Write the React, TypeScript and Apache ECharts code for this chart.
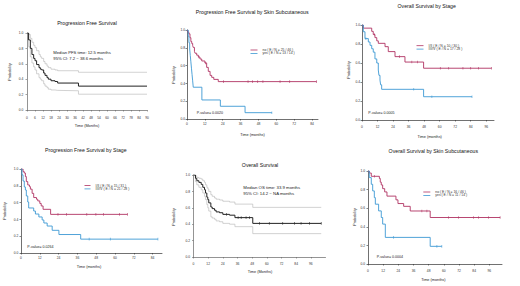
import React, { useEffect, useRef } from 'react';
import * as echarts from 'echarts';

const FONT = '"Liberation Sans", Arial, sans-serif';
const RED = '#B03262';
const BLUE = '#3C98D4';
const DARK = '#222222';
const CI = '#b4b4b4';

// Panel 1: Progression Free Survival (all)
const pfsTime = [0, 1.2, 2.5, 3.7, 5, 6, 7.2, 9, 10, 11, 12.5, 13.5, 15, 16, 18, 21, 23, 38.6];
const pfsSurv = [1, 0.91, 0.8, 0.72, 0.67, 0.64, 0.59, 0.55, 0.53, 0.52, 0.48, 0.45, 0.42, 0.4, 0.38, 0.37, 0.35, 0.31];
const pfsUpper = [1, 0.98, 0.93, 0.88, 0.84, 0.81, 0.77, 0.72, 0.69, 0.67, 0.63, 0.6, 0.57, 0.55, 0.53, 0.52, 0.51, 0.49];
const pfsLower = [1, 0.82, 0.69, 0.61, 0.56, 0.52, 0.47, 0.42, 0.4, 0.38, 0.34, 0.31, 0.29, 0.27, 0.26, 0.255, 0.25, 0.205];
const pfsEnd = 90;

// Panel 2: PFS by skin subcutaneous
const pfsNoTime = [0, 0.5, 1.2, 2, 2.6, 3.2, 3.8, 4.2, 5, 5.4, 6.5, 7.6, 8.7, 9.9, 12, 13.2, 14.3, 15.5, 16.6, 18, 21];
const pfsNoSurv = [1, 0.978, 0.957, 0.913, 0.87, 0.848, 0.826, 0.804, 0.76, 0.739, 0.717, 0.696, 0.674, 0.652, 0.63, 0.58, 0.535, 0.49, 0.468, 0.445, 0.42];
const pfsNoEnd = 87;
const pfsNoCens = [8, 12.5, 24.5, 41, 44, 47.5, 51, 62.5, 69, 87];
const pfsYesTime = [0, 0.8, 1.3, 1.8, 2.2, 2.6, 3.0, 3.4, 3.8, 4.2, 10, 22.4, 39];
const pfsYesSurv = [1, 0.929, 0.857, 0.786, 0.714, 0.643, 0.571, 0.5, 0.429, 0.357, 0.214, 0.143, 0.071];
const pfsYesEnd = 57;
const pfsYesCens = [57];

// Panel 3: OS by stage
const osStage12Time = [0, 1, 7.5, 8.7, 10, 11.4, 12.6, 17.8, 20.3, 25.5, 33.2, 47.6];
const osStage12Surv = [1, 0.967, 0.933, 0.9, 0.867, 0.833, 0.807, 0.772, 0.72, 0.667, 0.61, 0.545];
const osStage12End = 100;
const osStage12Cens = [9.5, 29, 38.5, 43, 60.5, 67, 78, 84, 90, 100];
const osStage34Time = [0, 1, 2.3, 4.9, 6.2, 7.5, 8.7, 10, 11.4, 12.6, 13.1, 13.9, 14.4, 15.2, 47.6];
const osStage34Surv = [1, 0.929, 0.857, 0.821, 0.786, 0.75, 0.714, 0.643, 0.6, 0.526, 0.47, 0.42, 0.37, 0.323, 0.245];
const osStage34End = 85;
const osStage34Cens = [3, 40, 54, 85];

// Panel 4: PFS by stage
const pfsStage12Time = [0, 1.3, 2.1, 2.8, 3.4, 4.3, 5.4, 6, 7.1, 8.1, 9.9, 10.7, 12, 12.9, 14.1, 18.9];
const pfsStage12Surv = [1, 0.968, 0.952, 0.91, 0.85, 0.81, 0.79, 0.76, 0.71, 0.66, 0.64, 0.62, 0.59, 0.56, 0.52, 0.46];
const pfsStage12End = 68;
const pfsStage12Cens = [23.6, 29, 42, 47.8, 52.7, 62.8, 68];
const pfsStage34Time = [0, 0.6, 1.3, 2.1, 2.8, 3.4, 4.3, 4.9, 8.1, 9.2, 11.4, 13.5, 14.6, 16.7, 19.9, 24.2, 38.1];
const pfsStage34Surv = [1, 0.93, 0.857, 0.786, 0.75, 0.679, 0.607, 0.536, 0.5, 0.464, 0.429, 0.393, 0.357, 0.321, 0.27, 0.22, 0.165];
const pfsStage34End = 87.4;
const pfsStage34Cens = [43.5, 57, 87.4];

// Panel 5: Overall Survival (all)
const osTime = [0, 1.6, 2.7, 4.4, 6.3, 7.6, 9, 9.8, 10.9, 11.7, 12.5, 14.2, 15.3, 17.2, 18.5, 21.3, 24, 29.5, 33.9, 48.5];
const osSurv = [1, 0.96, 0.93, 0.91, 0.885, 0.85, 0.82, 0.78, 0.73, 0.7, 0.66, 0.61, 0.59, 0.57, 0.55, 0.54, 0.52, 0.51, 0.48, 0.41];
const osUpper = [1, 0.99, 0.97, 0.96, 0.95, 0.93, 0.91, 0.88, 0.85, 0.83, 0.8, 0.76, 0.74, 0.72, 0.705, 0.695, 0.68, 0.67, 0.645, 0.605];
const osLower = [1, 0.92, 0.88, 0.85, 0.82, 0.78, 0.74, 0.7, 0.64, 0.6, 0.56, 0.49, 0.475, 0.46, 0.44, 0.43, 0.41, 0.4, 0.37, 0.285];
const osEnd = 104.5;
const osCens = [27, 36.5, 39, 43, 45.8, 54, 62, 73, 82.6, 88, 95, 104.5];

// Panel 6: OS by skin subcutaneous
const osNoTime = [0, 1, 2.6, 9, 9.7, 10.5, 11.6, 13.2, 15, 22.1, 23.7, 28.2, 33.4, 49.2];
const osNoSurv = [1, 0.978, 0.943, 0.92, 0.88, 0.85, 0.81, 0.775, 0.73, 0.69, 0.65, 0.62, 0.57, 0.5];
const osNoEnd = 104.5;
const osNoCens = [5, 42.6, 46.6, 63.7, 71.6, 83.4, 87.4, 95.3, 104.5];
const osYesTime = [0, 1, 2.6, 3.7, 5, 5.8, 8.4, 10.5, 11.6, 13.7, 49.2];
const osYesSurv = [1, 0.929, 0.857, 0.786, 0.714, 0.643, 0.571, 0.5, 0.429, 0.286, 0.19];
const osYesEnd = 58.4;
const osYesCens = [20.3, 54.5, 58.4];

const titles = [
  'Progression Free Survival',
  'Progression Free Survival by Skin Subcutaneous',
  'Overall Survival by Stage',
  'Progression Free Survival by Stage',
  'Overall Survival',
  'Overall Survival by Skin Subcutaneous',
];
const xNames = ['Time (Months)', 'Time (months)', 'Time (months)', 'Time (months)', 'Time (Months)', 'Time (months)'];
const yName = 'Probability';
const pValues = ['P-value= 0.0020', 'P-value= 0.0005', 'P-value= 0.0264', 'P-value= 0.0004'];
const legendNames = [
  ['no ( E / N = 25 / 46 )', 'yes ( E / N = 13 / 14 )'],
  ['I/II ( E / N = 10 / 30 )', 'III/IV ( E / N = 17 / 28 )'],
  ['I/II ( E / N = 15 / 31 )', 'III/IV ( E / N = 21 / 28 )'],
  ['no ( E / N = 16 / 46 )', 'yes ( E / N = 11 / 14 )'],
];
const pfsMedianText = ['Median PFS time: 12.5 months', '95% CI: 7.2 ~ 38.6 months'];
const osMedianText = ['Median OS time: 33.9 months', '95% CI: 14.2 ~ NA months'];

const xMax = [90, 88, 102, 90, 108, 106];
const xTickMax = [90, 84, 96, 84, 96, 96];
const xStep = [6, 12, 12, 12, 12, 12];

function km(t: number[], s: number[], end: number) {
  const pts = t.map((x, i) => [x, s[i]]);
  pts.push([end, s[s.length - 1]]);
  return pts;
}
function survAt(t: number[], s: number[], x: number) {
  let v = s[0];
  for (let i = 0; i < t.length; i++) if (t[i] <= x) v = s[i];
  return v;
}
function cens(t: number[], s: number[], c: number[]) {
  return c.map((x) => [x, survAt(t, s, x)]);
}
function ticks(max: number, step: number) {
  const out: number[] = [];
  for (let v = 0; v <= max + 1e-9; v += step) out.push(v);
  return out;
}

const grids = [
  { left: 27, top: 33, width: 120, height: 77 },
  { left: 187, top: 30, width: 131, height: 89 },
  { left: 362, top: 25, width: 132, height: 95 },
  { left: 21, top: 169, width: 141, height: 84 },
  { left: 193.5, top: 175, width: 132, height: 82 },
  { left: 368, top: 171, width: 134, height: 93 },
];
const xMargins = [6, 3.3, 5, 3.7, 5.4, 5.4];
const yMargins = [3.7, 2, 2, 2.7, 3.5, 3];
const axisColors = ['#666', '#333', '#333', '#333', '#666', '#333'];

function lineSeries(name: string, idx: number, data: number[][], color: string, width = 0.9) {
  return {
    name,
    type: 'line',
    step: 'end',
    xAxisIndex: idx,
    yAxisIndex: idx,
    data,
    showSymbol: false,
    symbol: 'none',
    lineStyle: { color, width },
    itemStyle: { color },
    silent: true,
  };
}
function censSeries(idx: number, data: number[][], color: string) {
  return {
    name: 'censor-' + idx + '-' + color,
    type: 'scatter',
    xAxisIndex: idx,
    yAxisIndex: idx,
    data,
    symbol: 'rect',
    symbolSize: [0.7, 2.6],
    itemStyle: { color },
    silent: true,
  };
}

function text(x: number, y: number, str: string, size: number, align = 'left', rotation = 0, color = '#222') {
  return {
    type: 'text',
    x,
    y,
    rotation,
    silent: true,
    style: {
      text: str,
      fontSize: size,
      fontFamily: FONT,
      fill: color,
      align,
      verticalAlign: 'middle',
      textAlign: align,
      textVerticalAlign: 'middle',
    },
  };
}

export default function App() {
  const ref = useRef<HTMLDivElement>(null);
  useEffect(() => {
    if (!ref.current) return;
    const chart = echarts.init(ref.current, null, { renderer: 'svg' });

    const xAxis = grids.map((_, i) => {
      const tv = ticks(xTickMax[i], xStep[i]);
      return {
        gridIndex: i,
        type: 'value',
        min: 0,
        max: xMax[i],
        axisLine: { show: true, lineStyle: { color: axisColors[i], width: 0.7 } },
        axisTick: { show: true, length: 1.5, customValues: tv, lineStyle: { color: axisColors[i], width: 0.6 } },
        axisLabel: { customValues: tv, fontSize: 3.3, fontFamily: FONT, color: '#333', margin: xMargins[i] },
        splitLine: { show: false },
      };
    });
    const yAxis = grids.map((_, i) => ({
      gridIndex: i,
      type: 'value',
      min: 0,
      max: 1,
      interval: 0.2,
      axisLine: { show: true, lineStyle: { color: axisColors[i], width: 0.7 } },
      axisTick: { show: true, length: 1.5, lineStyle: { color: axisColors[i], width: 0.6 } },
      axisLabel: {
        fontSize: 3.3,
        fontFamily: FONT,
        color: '#333',
        margin: yMargins[i],
        formatter: (v: number) => v.toFixed(1),
      },
      splitLine: { show: false },
    }));

    const series: any[] = [
      // panel 1
      lineSeries('pfs-upper', 0, km(pfsTime, pfsUpper, pfsEnd), CI, 0.6),
      lineSeries('pfs-lower', 0, km(pfsTime, pfsLower, pfsEnd), CI, 0.6),
      lineSeries('pfs', 0, km(pfsTime, pfsSurv, pfsEnd), DARK, 1),
      // panel 2
      lineSeries(legendNames[0][0], 1, km(pfsNoTime, pfsNoSurv, pfsNoEnd), RED),
      lineSeries(legendNames[0][1], 1, km(pfsYesTime, pfsYesSurv, pfsYesEnd), BLUE),
      censSeries(1, cens(pfsNoTime, pfsNoSurv, pfsNoCens), RED),
      censSeries(1, cens(pfsYesTime, pfsYesSurv, pfsYesCens), BLUE),
      // panel 3
      lineSeries(legendNames[1][0], 2, km(osStage12Time, osStage12Surv, osStage12End), RED),
      lineSeries(legendNames[1][1], 2, km(osStage34Time, osStage34Surv, osStage34End), BLUE),
      censSeries(2, cens(osStage12Time, osStage12Surv, osStage12Cens), RED),
      censSeries(2, cens(osStage34Time, osStage34Surv, osStage34Cens), BLUE),
      // panel 4
      lineSeries(legendNames[2][0], 3, km(pfsStage12Time, pfsStage12Surv, pfsStage12End), RED),
      lineSeries(legendNames[2][1], 3, km(pfsStage34Time, pfsStage34Surv, pfsStage34End), BLUE),
      censSeries(3, cens(pfsStage12Time, pfsStage12Surv, pfsStage12Cens), RED),
      censSeries(3, cens(pfsStage34Time, pfsStage34Surv, pfsStage34Cens), BLUE),
      // panel 5
      lineSeries('os-upper', 4, km(osTime, osUpper, osEnd), CI, 0.6),
      lineSeries('os-lower', 4, km(osTime, osLower, osEnd), CI, 0.6),
      lineSeries('os', 4, km(osTime, osSurv, osEnd), DARK, 1),
      censSeries(4, cens(osTime, osSurv, osCens), DARK),
      // panel 6
      lineSeries(legendNames[3][0], 5, km(osNoTime, osNoSurv, osNoEnd), RED),
      lineSeries(legendNames[3][1], 5, km(osYesTime, osYesSurv, osYesEnd), BLUE),
      censSeries(5, cens(osNoTime, osNoSurv, osNoCens), RED),
      censSeries(5, cens(osYesTime, osYesSurv, osYesCens), BLUE),
    ];

    const legendPos = [
      { left: 250.5, top: 48.3, w: 7 },
      { left: 416.5, top: 44, w: 7 },
      { left: 84.5, top: 183.8, w: 6 },
      { left: 423.3, top: 190.3, w: 7 },
    ];
    const legend = legendPos.map((p, i) => ({
      data: legendNames[i],
      left: p.left,
      top: p.top,
      orient: 'vertical',
      padding: 0,
      itemGap: 0,
      itemWidth: p.w,
      itemHeight: 0.8,
      icon: 'rect',
      selectedMode: false,
      textStyle: { fontSize: 3.4, lineHeight: 3.4, fontFamily: FONT, color: '#333' },
    }));

    const titlePos = [
      [87, 23.3], [252.2, 11.7], [426.7, 6], [85.8, 150], [260, 165], [433.3, 150.7],
    ];
    const xNamePos = [
      [87, 126], [252.5, 135], [429.7, 137], [89, 267], [260, 272], [433.3, 280],
    ];
    const yNamePos = [
      [10, 72], [173.5, 75], [349, 70], [5, 211], [174, 217], [354.5, 217],
    ];
    const pPos = [
      [196.7, 112.7], [368.3, 113.3], [27.3, 247.3], [376.7, 257.3],
    ];

    const graphic: any[] = [];
    titles.forEach((t, i) => graphic.push(text(titlePos[i][0], titlePos[i][1], t, 5.2, 'center', 0, '#111')));
    xNames.forEach((t, i) => graphic.push(text(xNamePos[i][0], xNamePos[i][1], t, 3.8, 'center')));
    yNamePos.forEach((p) => graphic.push(text(p[0], p[1], yName, 3.8, 'center', Math.PI / 2)));
    pValues.forEach((t, i) => graphic.push(text(pPos[i][0], pPos[i][1], t, 3.6)));
    graphic.push(text(53.3, 52.7, pfsMedianText[0], 4.2));
    graphic.push(text(53.3, 58.7, pfsMedianText[1], 4.2));
    graphic.push(text(243.3, 187.7, osMedianText[0], 4.3));
    graphic.push(text(243.3, 193.3, osMedianText[1], 4.3));

    chart.setOption({
      animation: false,
      backgroundColor: '#ffffff',
      textStyle: { fontFamily: FONT },
      grid: grids.map((g) => ({ ...g, containLabel: false })),
      xAxis,
      yAxis,
      legend,
      series,
      graphic,
    });
    return () => chart.dispose();
  }, []);
  return (
    <div
      ref={ref}
      style={{ position: 'fixed', left: 0, top: 0, width: 520, height: 286, background: '#fff' }}
    />
  );
}
